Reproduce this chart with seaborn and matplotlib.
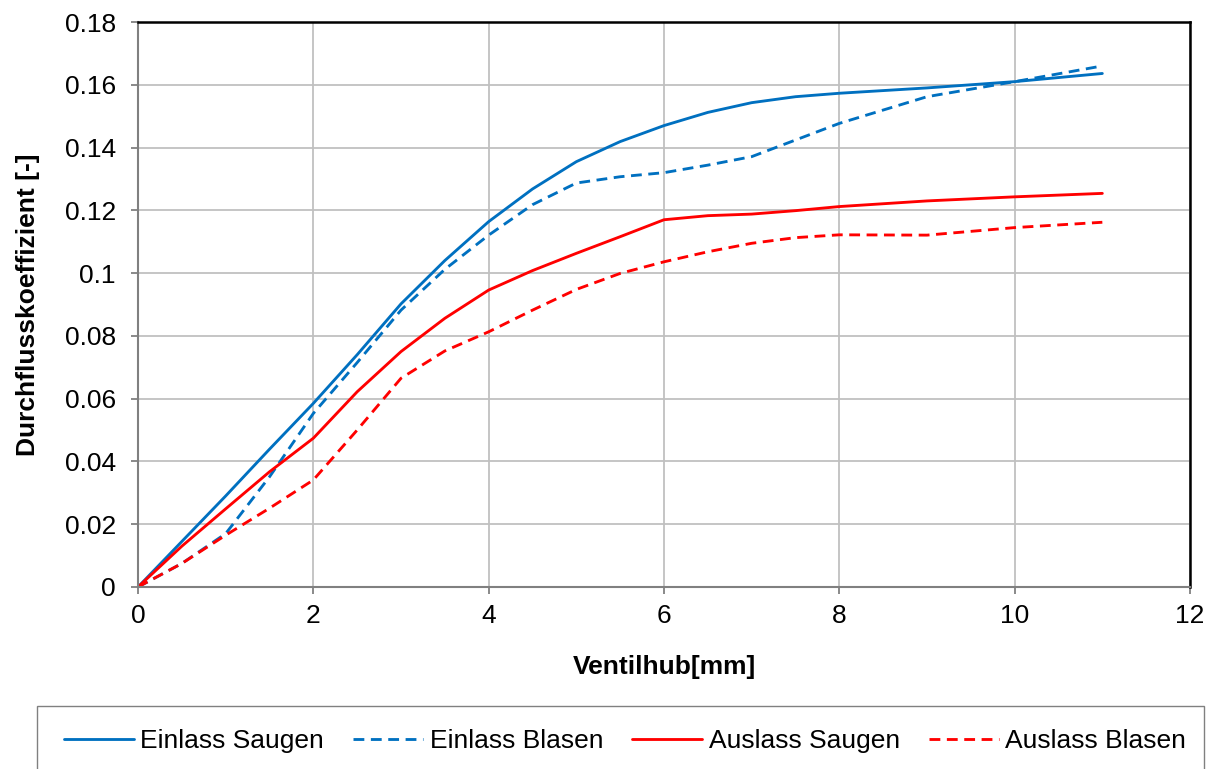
import matplotlib
matplotlib.use("Agg")
import matplotlib.pyplot as plt
import seaborn as sns
import pandas as pd
from matplotlib.patches import Rectangle
from matplotlib.ticker import FixedLocator, FixedFormatter

# ---- data ----
hub = [0, 0.5, 1, 1.5, 2, 2.5, 3, 3.5, 4, 4.5, 5, 5.5, 6, 6.5, 7, 7.5, 8, 9, 10, 11]
einlass_saugen = [0, 0.0145, 0.029, 0.0439, 0.0585, 0.0740, 0.0902, 0.1040, 0.1164, 0.1268,
                  0.1355, 0.1419, 0.1470, 0.1512, 0.1543, 0.1562, 0.1573, 0.1590, 0.1610, 0.1636]
einlass_blasen = [0, 0.0075, 0.0170, 0.0351, 0.0553, 0.0715, 0.0882, 0.1012, 0.1121, 0.1218,
                  0.1287, 0.1307, 0.1320, 0.1344, 0.1371, 0.1424, 0.1477, 0.1562, 0.1610, 0.1660]
auslass_saugen = [0, 0.0130, 0.0249, 0.0367, 0.0474, 0.0622, 0.0750, 0.0856, 0.0946, 0.1008,
                  0.1063, 0.1116, 0.1170, 0.1183, 0.1188, 0.1199, 0.1212, 0.1230, 0.1243, 0.1254]
auslass_blasen = [0, 0.0075, 0.0165, 0.0251, 0.0341, 0.0500, 0.0665, 0.0752, 0.0813, 0.0882,
                  0.0948, 0.0999, 0.1036, 0.1068, 0.1095, 0.1113, 0.1122, 0.1121, 0.1145, 0.1162]

series_names = ["Einlass Saugen", "Einlass Blasen", "Auslass Saugen", "Auslass Blasen"]
series_vals = [einlass_saugen, einlass_blasen, auslass_saugen, auslass_blasen]
x_ticks = [0, 2, 4, 6, 8, 10, 12]
y_ticks = [0, 0.02, 0.04, 0.06, 0.08, 0.1, 0.12, 0.14, 0.16, 0.18]
y_tick_labels = ["0", "0.02", "0.04", "0.06", "0.08", "0.1", "0.12", "0.14", "0.16", "0.18"]
x_label = "Ventilhub[mm]"
y_label = "Durchflusskoeffizient [-]"

# ---- styling ----
sns.set_theme(style="white")
plt.rcParams["font.family"] = ["Liberation Sans", "DejaVu Sans"]
FS = 19

colors = ["#0070C0", "#0070C0", "#FF0000", "#FF0000"]
dashed = [False, True, False, True]

fig = plt.figure(figsize=(12.14, 7.69), dpi=100)
ax = fig.add_axes([138 / 1214, 1 - 587 / 769, (1190 - 138) / 1214, (587 - 22) / 769])

for name, vals, c, d in zip(series_names, series_vals, colors, dashed):
    df = pd.DataFrame({"x": hub, "y": vals})
    line_ax = sns.lineplot(data=df, x="x", y="y", ax=ax, color=c, linewidth=2.05,
                           label=name, sort=False)
    ln = line_ax.get_lines()[-1]
    ln.set_solid_joinstyle("round")
    if d:
        ln.set_dashes((3.8, 2.3))

ax.set_xlim(0, 12)
ax.set_ylim(0, 0.18)
ax.xaxis.set_major_locator(FixedLocator(x_ticks))
ax.yaxis.set_major_locator(FixedLocator(y_ticks))
ax.yaxis.set_major_formatter(FixedFormatter(y_tick_labels))
ax.set_xticklabels([str(t) for t in x_ticks])

ax.grid(True, color="#C0C0C0", linewidth=1.3)
ax.set_axisbelow(True)

for side in ["left", "bottom"]:
    ax.spines[side].set_color("#808080")
    ax.spines[side].set_linewidth(1.5)
for side in ["top", "right"]:
    ax.spines[side].set_color("#000000")
    ax.spines[side].set_linewidth(1.8)

ax.tick_params(axis="both", which="major", direction="out", length=5, width=1.3,
               color="#808080", labelsize=FS, labelcolor="#000000",
               bottom=True, left=True)
ax.tick_params(axis="y", pad=11)
ax.tick_params(axis="x", pad=7)

ax.set_xlabel(x_label, fontsize=FS, fontweight="bold", labelpad=20, color="black")
ax.set_ylabel(y_label, fontsize=FS, fontweight="bold", labelpad=18, color="black")

# legend
ax.get_legend().remove()
handles, labels = ax.get_legend_handles_labels()
fig.patches.append(Rectangle((37 / 1214, -0.05), (1204 - 37) / 1214, 0.05 + (769 - 706) / 769,
                             transform=fig.transFigure, facecolor="white",
                             edgecolor="#808080", linewidth=1.0, zorder=0))
leg = fig.legend(handles, labels, loc="center", bbox_to_anchor=(625 / 1214, 1 - 741 / 769),
                 ncol=4, frameon=False, fontsize=FS, handlelength=2.65, handletextpad=0.25,
                 columnspacing=1.1)
for t in leg.get_texts():
    t.set_color("black")

fig.savefig("out.png", dpi=100)
